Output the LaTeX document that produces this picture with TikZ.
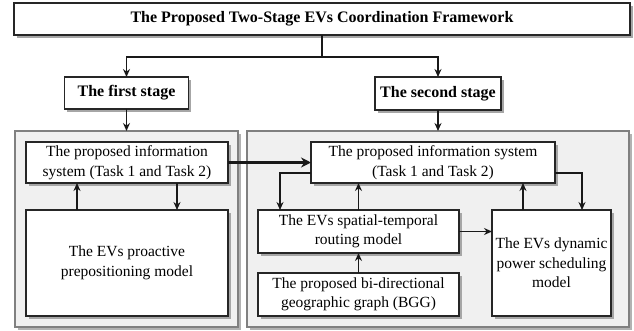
\documentclass[tikz,border=0pt]{standalone}
\usepackage{fontspec}
\setmainfont{Liberation Serif}
\usetikzlibrary{shadows,arrows.meta}
\begin{document}
\begin{tikzpicture}[x=1pt,y=-1pt,
  every node/.style={outer sep=0pt, inner sep=2pt, align=center},
  box/.style={draw=black!85, line width=1.3pt, fill=white,
    drop shadow={shadow xshift=2.5pt, shadow yshift=-2.5pt, fill=black!35, opacity=1},
    font=\fontsize{15.5}{19.5}\selectfont},
  boldbox/.style={box, font=\fontsize{16}{19}\selectfont\bfseries},
  panel/.style={draw=black!50, line width=1.3pt, fill=black!6,
    drop shadow={shadow xshift=2.5pt, shadow yshift=-2.5pt, fill=black!30, opacity=1}},
  conn/.style={line width=1.3pt, draw=black!90},
  arr/.style={conn, -{Stealth[length=8pt,width=7pt]}},
  bigarr/.style={line width=2.5pt, draw=black!90, -{Stealth[length=10pt,width=10pt]}}
]
\useasboundingbox (0,0) rectangle (634,330);

\node[boldbox, minimum width=616pt, minimum height=32pt] (top) at (322,19) {The Proposed Two-Stage EVs Coordination Framework};
\node[boldbox, minimum width=124pt, minimum height=32pt] (first) at (126.5,93) {The first stage};
\node[boldbox, minimum width=126pt, minimum height=33pt] (second) at (438,93.5) {The second stage};

\node[panel, minimum width=223pt, minimum height=196pt] (lpanel) at (126.5,229) {};
\node[panel, minimum width=382pt, minimum height=196pt] (rpanel) at (438,229) {};

\node[box, minimum width=202pt, minimum height=41pt] (linfo) at (127,162.5) {The proposed information\\system (Task 1 and Task 2)};
\node[box, minimum width=202pt, minimum height=106pt] (proactive) at (127,263) {The EVs proactive\\prepositioning model};

\node[box, minimum width=244pt, minimum height=41pt] (rinfo) at (433,162.5) {The proposed information system\\(Task 1 and Task 2)};
\node[box, minimum width=201pt, minimum height=43pt] (routing) at (358.5,231.5) {The EVs spatial-temporal\\routing model};
\node[box, minimum width=201pt, minimum height=43pt] (bgg) at (358.5,294.5) {The proposed bi-directional\\geographic graph (BGG)};
\node[box, minimum width=119pt, minimum height=106pt] (dynamic) at (551.5,263) {The EVs dynamic\\power scheduling\\model};

\coordinate (j) at (322,57);
\draw[conn] (top.south) -- (j);
\draw[arr] (j) -| (first.north);
\draw[arr] (j) -| (second.north);
\draw[arr] (first.south) -- (lpanel.north);
\draw[arr] (second.south) -- (rpanel.north);

\draw[arr] ([xshift=-50pt]proactive.north) -- ([xshift=-50pt]proactive.north |- linfo.south);
\draw[arr] ([xshift=50pt]linfo.south) -- ([xshift=50pt]linfo.south |- proactive.north);

\draw[bigarr] (linfo.east) -- (rinfo.west);

\draw[arr] ([yshift=-10.5pt]rinfo.west) -| ([xshift=-78.5pt]routing.north);
\draw[arr] (routing.north) -- (routing.north |- rinfo.south);
\draw[arr] (bgg.north) -- (routing.south);
\draw[arr] (routing.east) -- (routing.east -| dynamic.west);
\draw[arr] ([xshift=-28.5pt]dynamic.north) -- ([xshift=-28.5pt]dynamic.north |- rinfo.south);
\draw[arr] ([yshift=-10.5pt]rinfo.east) -| ([xshift=30.5pt]dynamic.north);
\end{tikzpicture}
\end{document}
